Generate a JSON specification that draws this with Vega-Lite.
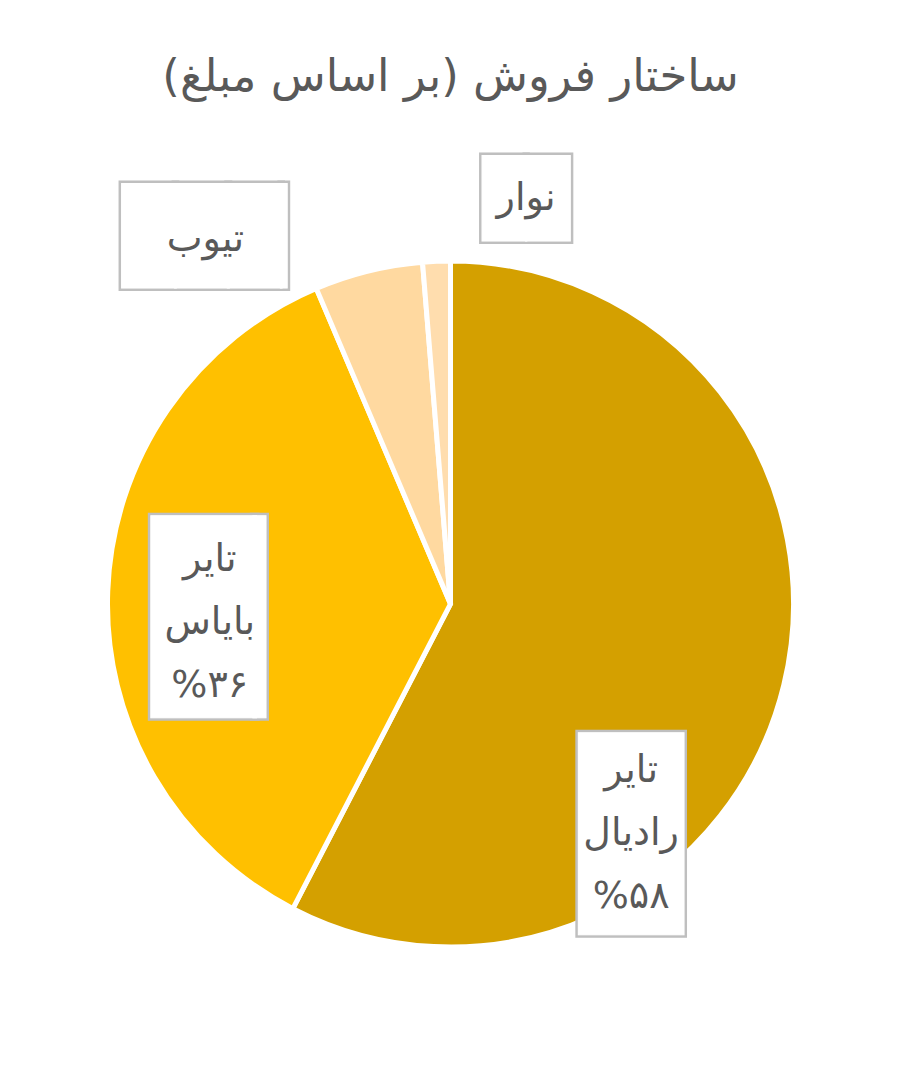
{
  "$schema": "https://vega.github.io/schema/vega-lite/v6.json",
  "width": 901,
  "height": 968,
  "autosize": "none",
  "padding": {"top": 120, "left": 0, "right": 0, "bottom": 0},
  "background": "white",
  "title": {
    "text": "‏ساختار فروش (بر اساس مبلغ)‏",
    "font": "DejaVu Sans",
    "fontSize": 45,
    "fontWeight": "normal",
    "color": "#595959",
    "anchor": "middle",
    "offset": 20
  },
  "config": {"view": {"stroke": null}},
  "data": {
    "values": [
      {"category": "تایر رادیال", "value": 57.6, "label": ["تایر", "رادیال", "%۵۸"]},
      {"category": "تایر بایاس", "value": 36.0, "label": ["تایر", "بایاس", "%۳۶"]},
      {"category": "تیوب", "value": 5.1, "label": ["تیوب"]},
      {"category": "نوار", "value": 1.3, "label": ["نوار"]}
    ]
  },
  "encoding": {
    "theta": {"field": "value", "type": "quantitative", "stack": true},
    "order": {"field": "value", "type": "quantitative", "sort": "descending"},
    "detail": {"field": "category", "type": "nominal"}
  },
  "layer": [
    {
      "mark": {"type": "arc", "outerRadius": 343, "stroke": "white", "strokeWidth": 5},
      "encoding": {
        "color": {
          "field": "category",
          "type": "nominal",
          "scale": {
            "domain": ["تایر رادیال", "تایر بایاس", "تیوب", "نوار"],
            "range": ["#D4A000", "#FFC000", "#FFD9A0", "#FFDDAE"]
          },
          "legend": null
        }
      }
    },
    {
      "mark": {"type": "text", "font": "DejaVu Sans Mono", "fontSize": 170, "radius": 292, "thetaOffset": 0.665, "dy": 8, "fill": "#BFBFBF", "stroke": "#BFBFBF", "strokeWidth": 6},
      "encoding": {"text": {"condition": {"test": "datum.category === 'تایر رادیال'", "value": "█"}, "value": ""}}
    },
    {
      "mark": {"type": "text", "font": "DejaVu Sans Mono", "fontSize": 170, "radius": 292, "thetaOffset": 0.665, "dy": 8, "fill": "white", "stroke": "white", "strokeWidth": 1},
      "encoding": {"text": {"condition": {"test": "datum.category === 'تایر رادیال'", "value": "█"}, "value": ""}}
    },
    {
      "mark": {"type": "text", "font": "DejaVu Sans", "fontSize": 38, "lineHeight": 63, "baseline": "middle", "dy": -62, "radius": 292, "thetaOffset": 0.665, "fill": "#595959"},
      "encoding": {"text": {"condition": {"test": "datum.category === 'تایر رادیال'", "field": "label"}, "value": ""}}
    },
    {
      "mark": {"type": "text", "font": "DejaVu Sans Mono", "fontSize": 170, "radius": 241, "thetaOffset": -0.089, "dx": 45, "dy": 8, "fill": "#BFBFBF", "stroke": "#BFBFBF", "strokeWidth": 6},
      "encoding": {"text": {"condition": {"test": "datum.category === 'تایر بایاس'", "value": "█▏"}, "value": ""}}
    },
    {
      "mark": {"type": "text", "font": "DejaVu Sans Mono", "fontSize": 170, "radius": 241, "thetaOffset": -0.089, "dx": 45, "dy": 8, "fill": "white", "stroke": "white", "strokeWidth": 1},
      "encoding": {"text": {"condition": {"test": "datum.category === 'تایر بایاس'", "value": "█▏"}, "value": ""}}
    },
    {
      "mark": {"type": "text", "font": "DejaVu Sans", "fontSize": 38, "lineHeight": 63, "baseline": "middle", "dy": -56, "radius": 241, "thetaOffset": -0.089, "fill": "#595959"},
      "encoding": {"text": {"condition": {"test": "datum.category === 'تایر بایاس'", "field": "label"}, "value": ""}}
    },
    {
      "mark": {"type": "text", "font": "DejaVu Sans Mono", "fontSize": 88, "radius": 442, "thetaOffset": -0.346, "dx": 23, "dy": 4, "fill": "#BFBFBF", "stroke": "#BFBFBF", "strokeWidth": 6},
      "encoding": {"text": {"condition": {"test": "datum.category === 'تیوب'", "value": "███▏"}, "value": ""}}
    },
    {
      "mark": {"type": "text", "font": "DejaVu Sans Mono", "fontSize": 88, "radius": 442, "thetaOffset": -0.346, "dx": 23, "dy": 4, "fill": "white", "stroke": "white", "strokeWidth": 1},
      "encoding": {"text": {"condition": {"test": "datum.category === 'تیوب'", "value": "███▏"}, "value": ""}}
    },
    {
      "mark": {"type": "text", "font": "DejaVu Sans", "fontSize": 38, "baseline": "middle", "dy": 4, "radius": 442, "thetaOffset": -0.346, "fill": "#595959"},
      "encoding": {"text": {"condition": {"test": "datum.category === 'تیوب'", "field": "category"}, "value": ""}}
    },
    {
      "mark": {"type": "text", "font": "DejaVu Sans Mono", "fontSize": 72, "radius": 413, "thetaOffset": 0.225, "dy": 3, "fill": "#BFBFBF", "stroke": "#BFBFBF", "strokeWidth": 6},
      "encoding": {"text": {"condition": {"test": "datum.category === 'نوار'", "value": "██"}, "value": ""}}
    },
    {
      "mark": {"type": "text", "font": "DejaVu Sans Mono", "fontSize": 72, "radius": 413, "thetaOffset": 0.225, "dy": 3, "fill": "white", "stroke": "white", "strokeWidth": 1},
      "encoding": {"text": {"condition": {"test": "datum.category === 'نوار'", "value": "██"}, "value": ""}}
    },
    {
      "mark": {"type": "text", "font": "DejaVu Sans", "fontSize": 38, "baseline": "middle", "dy": 1, "radius": 413, "thetaOffset": 0.225, "fill": "#595959"},
      "encoding": {"text": {"condition": {"test": "datum.category === 'نوار'", "field": "category"}, "value": ""}}
    }
  ]
}
